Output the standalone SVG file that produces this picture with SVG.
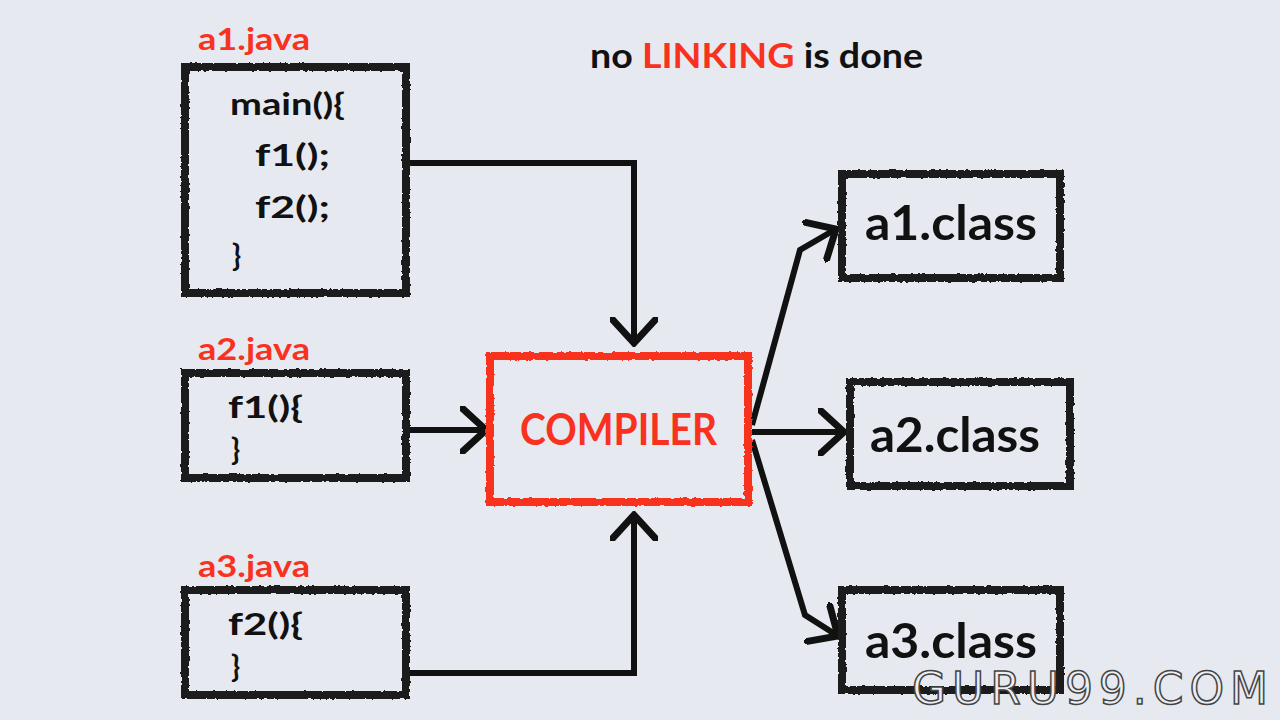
<svg xmlns="http://www.w3.org/2000/svg" width="1280" height="720" viewBox="0 0 1280 720">
<style>
.bg{fill:#e6e9ef}
.box{fill:none;stroke:#1b1b1b;stroke-width:8}
.rbox{fill:none;stroke:#f8321f;stroke-width:8}
.lbl{font-family:Lato,"Open Sans",sans-serif;font-weight:bold;fill:#f8321f;font-size:30px}
.code{font-family:Lato,"Open Sans",sans-serif;font-weight:bold;fill:#111;font-size:30px}
.cls{font-family:Lato,"Open Sans",sans-serif;font-weight:bold;fill:#111;font-size:48px}
.comp{font-family:Lato,"Open Sans",sans-serif;font-weight:bold;fill:#f8321f;font-size:44px}
.title{font-family:Lato,"Open Sans",sans-serif;font-weight:bold;font-size:34px;fill:#111}
.conn{fill:none;stroke:#111;stroke-width:6;stroke-linejoin:miter}
.wm{font-family:"DejaVu Sans",sans-serif;font-size:44px;fill:#eceef2;stroke:#444;stroke-width:1.5}
</style>
<defs>
<filter id="rough" x="-5%" y="-5%" width="110%" height="110%">
<feTurbulence type="fractalNoise" baseFrequency="0.25" numOctaves="2" seed="3" result="n"/>
<feDisplacementMap in="SourceGraphic" in2="n" scale="3"/>
</filter>
<marker id="chev" markerUnits="userSpaceOnUse" viewBox="-2 -2 30 48" refX="24" refY="22" markerWidth="30" markerHeight="48" orient="auto">
<path d="M0,0 L24,22 L0,44" fill="none" stroke="#111" stroke-width="7" stroke-linecap="round" stroke-linejoin="miter"/>
</marker>
</defs>
<rect class="bg" x="0" y="0" width="1280" height="720"/>

<text class="title" x="590" y="68" textLength="333" lengthAdjust="spacingAndGlyphs">no <tspan fill="#f8321f">LINKING</tspan> is done</text>

<g id="connectors">
<path class="conn" d="M408,163 L634,163 L634,343" marker-end="url(#chev)"/>
<path class="conn" d="M408,430 L486,430" marker-end="url(#chev)"/>
<path class="conn" d="M408,673 L634,673 L634,515" marker-end="url(#chev)"/>
<path class="conn" d="M752,425 L800,250 L836,229" marker-end="url(#chev)"/>
<path class="conn" d="M752,432 L844,432" marker-end="url(#chev)"/>
<path class="conn" d="M752,440 L805,615 L838,636" marker-end="url(#chev)"/>
</g>

<g id="a1java">
<text class="lbl" x="198" y="50" textLength="112" lengthAdjust="spacingAndGlyphs">a1.java</text>
<rect class="box" x="185" y="67" width="221" height="226" filter="url(#rough)"/>
<text class="code" x="230" y="115" textLength="115" lengthAdjust="spacingAndGlyphs">main(){</text>
<text class="code" x="255" y="166" textLength="75" lengthAdjust="spacingAndGlyphs">f1();</text>
<text class="code" x="255" y="218" textLength="75" lengthAdjust="spacingAndGlyphs">f2();</text>
<text class="code" x="232" y="266">}</text>
</g>

<g id="a2java">
<text class="lbl" x="198" y="360" textLength="112" lengthAdjust="spacingAndGlyphs">a2.java</text>
<rect class="box" x="185" y="373" width="221" height="105" filter="url(#rough)"/>
<text class="code" x="228" y="418" textLength="75" lengthAdjust="spacingAndGlyphs">f1(){</text>
<text class="code" x="231" y="460">}</text>
</g>

<g id="a3java">
<text class="lbl" x="198" y="577" textLength="112" lengthAdjust="spacingAndGlyphs">a3.java</text>
<rect class="box" x="185" y="590" width="221" height="105" filter="url(#rough)"/>
<text class="code" x="228" y="635" textLength="75" lengthAdjust="spacingAndGlyphs">f2(){</text>
<text class="code" x="231" y="677">}</text>
</g>

<g id="compiler">
<rect class="rbox" x="490" y="356" width="258" height="146" filter="url(#rough)"/>
<text class="comp" x="520" y="445" textLength="197" lengthAdjust="spacingAndGlyphs">COMPILER</text>
</g>

<g id="a1class">
<rect class="box" x="842" y="174" width="218" height="104" filter="url(#rough)"/>
<text class="cls" x="865" y="240" textLength="172" lengthAdjust="spacingAndGlyphs">a1.class</text>
</g>

<g id="a2class">
<rect class="box" x="850" y="382" width="220" height="104" filter="url(#rough)"/>
<text class="cls" x="870" y="452" textLength="170" lengthAdjust="spacingAndGlyphs">a2.class</text>
</g>

<g id="a3class">
<rect class="box" x="842" y="590" width="218" height="100" filter="url(#rough)"/>
<text class="cls" x="865" y="658" textLength="172" lengthAdjust="spacingAndGlyphs">a3.class</text>
</g>

<text class="wm" x="912" y="704" textLength="356" lengthAdjust="spacing">GURU99.COM</text>
</svg>
